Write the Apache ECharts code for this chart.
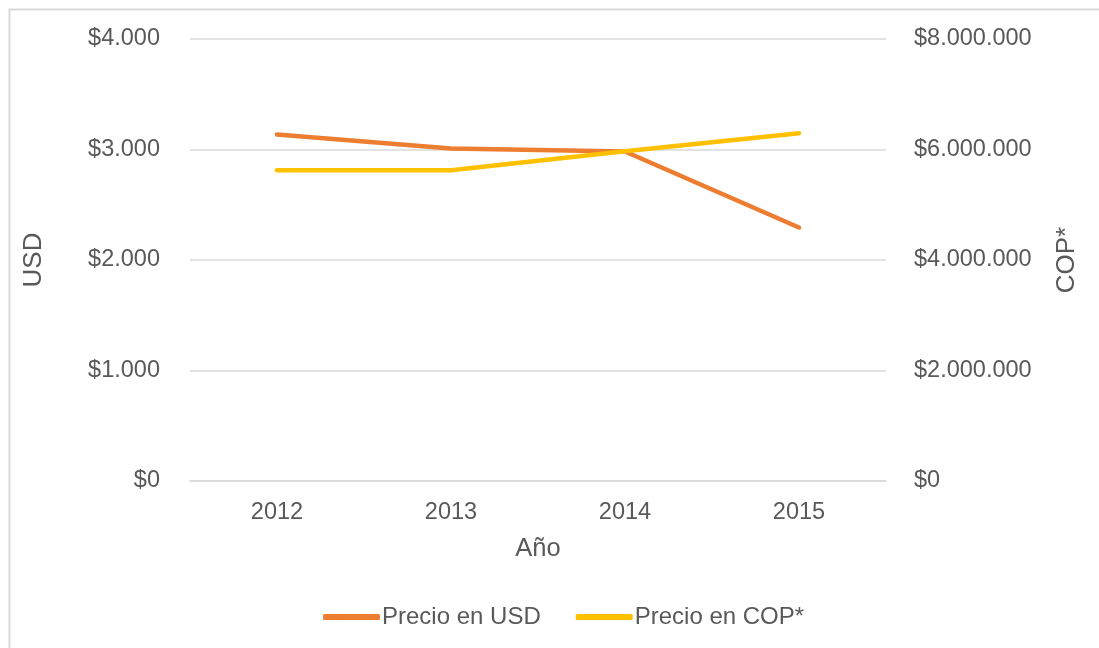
<!DOCTYPE html>
<html>
<head>
<meta charset="utf-8">
<script src="https://cdn.jsdelivr.net/npm/echarts@6/dist/echarts.min.js"></script>
<style>
  html, body { margin: 0; padding: 0; background: #fff; }
  #chart { width: 1099px; height: 648px; }
</style>
</head>
<body>
<div id="chart"></div>
<script>
// Años y precios (USD a la izquierda, COP a la derecha)
const years = ['2012', '2013', '2014', '2015'];
const precioUSD = [3135, 3010, 2982, 2294];
const precioCOP = [5626000, 5626000, 5970000, 6296000];

const usdTicks = { min: 0, max: 4000, interval: 1000 };
const copTicks = { min: 0, max: 8000000, interval: 2000000 };

const FONT = 'Liberation Sans, Arial, sans-serif';
const TXT = '#595959';

function miles(v) {
  return '$' + String(Math.round(v)).replace(/\B(?=(\d{3})+(?!\d))/g, '.');
}

const chart = echarts.init(document.getElementById('chart'));
chart.setOption({
  animation: false,
  backgroundColor: '#fff',
  textStyle: { fontFamily: FONT },
  graphic: [{
    type: 'rect',
    shape: { x: 9.5, y: 9.5, width: 1200, height: 700 },
    style: { fill: 'none', stroke: '#d9d9d9', lineWidth: 2 },
    silent: true
  }],
  grid: { left: 190, right: 213, top: 39, bottom: 167 },
  legend: {
    top: 600,
    left: 318,
    itemWidth: 57,
    itemHeight: 6,
    itemGap: 35,
    icon: 'roundRect',
    textStyle: { color: TXT, fontSize: 24, fontFamily: FONT, padding: [0, 0, 0, -3] },
    data: ['Precio en USD', 'Precio en COP*']
  },
  xAxis: {
    type: 'category',
    data: years,
    boundaryGap: true,
    name: 'Año',
    nameLocation: 'middle',
    nameGap: 55,
    nameTextStyle: { color: TXT, fontSize: 25.5, fontFamily: FONT },
    axisLine: { lineStyle: { color: '#d9d9d9', width: 1.5 } },
    axisTick: { show: false },
    axisLabel: { color: TXT, fontSize: 23.5, fontFamily: FONT, margin: 20 }
  },
  yAxis: [{
    type: 'value',
    min: usdTicks.min, max: usdTicks.max, interval: usdTicks.interval,
    name: 'USD',
    nameLocation: 'middle',
    nameGap: 143,
    nameRotate: 90,
    nameTextStyle: { color: TXT, fontSize: 26, fontFamily: FONT },
    axisLine: { show: false },
    axisTick: { show: false },
    splitLine: { lineStyle: { color: '#d9d9d9', width: 1.5 } },
    axisLabel: { color: TXT, fontSize: 23.5, fontFamily: FONT, margin: 30, padding: [4, 0, 0, 0], formatter: miles }
  }, {
    type: 'value',
    min: copTicks.min, max: copTicks.max, interval: copTicks.interval,
    name: 'COP*',
    nameLocation: 'middle',
    nameGap: 168,
    nameRotate: 90,
    nameTextStyle: { color: TXT, fontSize: 26, fontFamily: FONT },
    axisLine: { show: false },
    axisTick: { show: false },
    splitLine: { show: false },
    axisLabel: { color: TXT, fontSize: 23.5, fontFamily: FONT, margin: 28, padding: [4, 0, 0, 0], formatter: miles }
  }],
  series: [{
    name: 'Precio en USD',
    type: 'line',
    yAxisIndex: 0,
    data: precioUSD,
    symbol: 'none',
    color: '#ED7D31',
    lineStyle: { width: 4.5, cap: 'round', join: 'round' },
    z: 2
  }, {
    name: 'Precio en COP*',
    type: 'line',
    yAxisIndex: 1,
    data: precioCOP,
    symbol: 'none',
    color: '#FFC000',
    lineStyle: { width: 4.5, cap: 'round', join: 'round' },
    z: 3
  }]
});
</script>
</body>
</html>
